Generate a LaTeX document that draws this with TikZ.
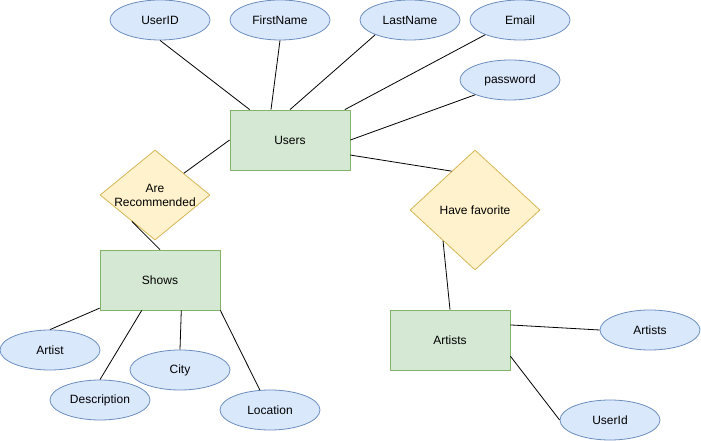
\documentclass[tikz,border=0pt]{standalone}
\usepackage{fontspec}
\setmainfont{Liberation Sans}
\usetikzlibrary{shapes.geometric}
\definecolor{attrfill}{HTML}{DAE8FC}
\definecolor{attrline}{HTML}{6C8EBF}
\definecolor{entfill}{HTML}{D5E8D4}
\definecolor{entline}{HTML}{82B366}
\definecolor{relfill}{HTML}{FFF2CC}
\definecolor{relline}{HTML}{D6B656}
\begin{document}
\begin{tikzpicture}[>=latex,line join=bevel,
  font=\fontsize{12bp}{14bp}\selectfont,
  attr/.style={ellipse,draw=attrline,fill=attrfill,line width=0.8bp,minimum width=100bp,minimum height=40bp,inner sep=0bp},
  entity/.style={rectangle,draw=entline,fill=entfill,line width=0.8bp,minimum width=120bp,minimum height=60bp,inner sep=0bp},
  rel/.style={diamond,draw=relline,fill=relfill,line width=0.8bp,inner sep=0bp},
  link/.style={black,line width=0.8bp},]
\useasboundingbox (0bp,0bp) rectangle (701bp,441bp);
%%
\node (node_users) at (290bp,301bp) [entity] {Users};
  \node (node_shows) at (160bp,161bp) [entity] {Shows};
  \node (node_artists) at (450bp,101bp) [entity] {Artists};
%
\node (node_userid) at (160bp,421bp) [attr] {UserID};
  \node (node_firstname) at (280bp,421bp) [attr] {FirstName};
  \node (node_lastname) at (410bp,421bp) [attr] {LastName};
  \node (node_email) at (520bp,421bp) [attr] {Email};
  \node (node_password) at (510bp,361bp) [attr] {password};
  \node (node_artist) at (50bp,91bp) [attr] {Artist};
  \node (node_description) at (100bp,41bp) [attr] {Description};
  \node (node_city) at (180bp,71bp) [attr] {City};
  \node (node_location) at (270bp,31bp) [attr] {Location};
  \node (node_artistname) at (650bp,111bp) [attr] {Artists};
  \node (node_artistuser) at (610bp,21bp) [attr] {UserId};
%
\node (node_recommended) at (155bp,246bp) [rel,minimum width=110bp,minimum height=90bp,label={[align=center]center:Are\\Recommended}] {};
  \node (node_favorite) at (475bp,231bp) [rel,minimum width=130bp,minimum height=120bp,label={center:Have favorite}] {};
%
\draw [link] (node_userid.south) -- (node_users.143);
  \draw [link] (node_firstname.south) -- (node_users.122);
  \draw [link] (node_lastname.203) -- (node_users.north);
  \draw [link] (node_email.203) -- (node_users.29);
  \draw [link] (node_password.203) -- (node_users.east);
  \draw [link] (node_users.-14) -- (node_favorite.121);
  \draw [link] (node_users.west) -- (node_recommended.37);
  \draw [link] (node_recommended.229) -- (node_shows.north);
  \draw [link] (node_favorite.224) -- (node_artists.north);
  \draw [link] (node_shows.205) -- (node_artist.north);
  \draw [link] (node_shows.239) -- (node_description.north);
  \draw [link] (node_shows.305) -- (node_city.north);
  \draw [link] (node_shows.south east) -- (node_location.117);
  \draw [link] (node_artists.14) -- (node_artistname.west);
  \draw [link] (node_artists.-15) -- (node_artistuser.west);
%
\end{tikzpicture}
\end{document}
